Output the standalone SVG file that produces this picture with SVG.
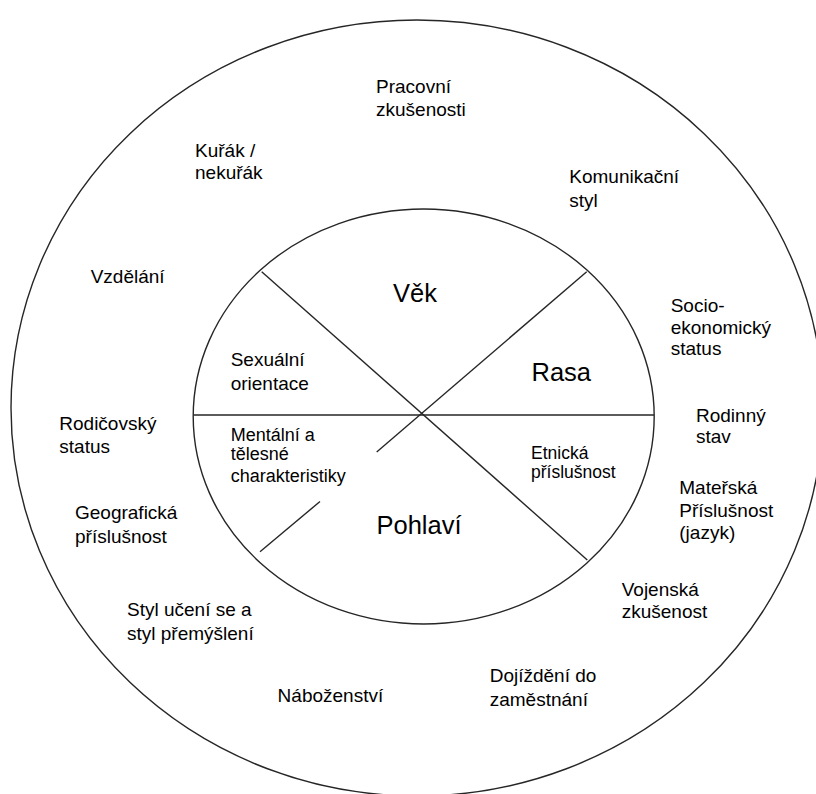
<svg xmlns="http://www.w3.org/2000/svg" width="816" height="794" viewBox="0 0 816 794">
  <style>
    .ring { fill: none; stroke: #262626; stroke-width: 1.4; }
    .div { stroke: #262626; stroke-width: 1.4; fill: none; }
    text { font-family: "Liberation Sans", Arial, sans-serif; fill: #000; }
    .lbl { font-size: 19px; }
    .sm { font-size: 18px; }
    .xs { font-size: 17.5px; }
    .big { font-size: 25.5px; }
  </style>
  <rect width="816" height="794" fill="#fff"/>

  <!-- outer ring -->
  <g id="outer-ring">
    <ellipse class="ring" cx="417" cy="408" rx="406" ry="388"/>
  </g>

  <!-- inner ellipse -->
  <g id="inner-ellipse">
    <ellipse class="ring" cx="423.7" cy="416.5" rx="230.5" ry="207.5"/>
  </g>

  <!-- dividing lines of the inner ellipse -->
  <g id="connectors">
    <line class="div" x1="193.5" y1="415" x2="654" y2="415"/>
    <line class="div" x1="261.7" y1="271.7" x2="587.3" y2="560"/>
    <line class="div" x1="586.7" y1="271.7" x2="376.7" y2="452"/>
    <line class="div" x1="320" y1="501.5" x2="260" y2="551.7"/>
  </g>

  <!-- inner sectors -->
  <g id="vek"><text class="big" x="393" y="301.5">Věk</text></g>
  <g id="rasa"><text class="big" x="531.5" y="380.5">Rasa</text></g>
  <g id="pohlavi"><text class="big" x="376.5" y="534">Pohlaví</text></g>
  <g id="sexualni-orientace">
    <text class="lbl" x="230.7" y="366">Sexuální</text>
    <text class="lbl" x="230.7" y="390">orientace</text>
  </g>
  <g id="mentalni-telesne">
    <text class="sm" x="230.7" y="440.7">Mentální a</text>
    <text class="sm" x="230.7" y="460">tělesné</text>
    <text class="sm" x="230.7" y="481.7">charakteristiky</text>
  </g>
  <g id="etnicka">
    <text class="xs" x="531" y="459.3">Etnická</text>
    <text class="xs" x="531" y="477.7">příslušnost</text>
  </g>

  <!-- outer ring labels -->
  <g id="pracovni">
    <text class="lbl" x="376" y="92.7">Pracovní</text>
    <text class="lbl" x="376" y="116">zkušenosti</text>
  </g>
  <g id="kurak">
    <text class="lbl" x="195" y="156.7">Kuřák /</text>
    <text class="lbl" x="195" y="179.3">nekuřák</text>
  </g>
  <g id="komunikacni">
    <text class="lbl" x="569.3" y="183.3">Komunikační</text>
    <text class="lbl" x="569.3" y="206.7">styl</text>
  </g>
  <g id="vzdelani">
    <text class="lbl" x="90.7" y="283.3">Vzdělání</text>
  </g>
  <g id="socio">
    <text class="lbl" x="670.7" y="311.7">Socio-</text>
    <text class="lbl" x="670.7" y="333.5">ekonomický</text>
    <text class="lbl" x="670.7" y="355.3">status</text>
  </g>
  <g id="rodicovsky">
    <text class="lbl" x="59.3" y="430">Rodičovský</text>
    <text class="lbl" x="59.3" y="453.3">status</text>
  </g>
  <g id="rodinny">
    <text class="lbl" x="696" y="421.7">Rodinný</text>
    <text class="lbl" x="696" y="443.3">stav</text>
  </g>
  <g id="geograficka">
    <text class="lbl" x="75" y="519.3">Geografická</text>
    <text class="lbl" x="75" y="542.7">příslušnost</text>
  </g>
  <g id="materska">
    <text class="lbl" x="679.3" y="494.3">Mateřská</text>
    <text class="lbl" x="679.3" y="516.7">Příslušnost</text>
    <text class="lbl" x="679.3" y="539.3">(jazyk)</text>
  </g>
  <g id="vojenska">
    <text class="lbl" x="621.7" y="596">Vojenská</text>
    <text class="lbl" x="621.7" y="618.3">zkušenost</text>
  </g>
  <g id="styl-uceni">
    <text class="lbl" x="127" y="616">Styl učení se a</text>
    <text class="lbl" x="127" y="640">styl přemýšlení</text>
  </g>
  <g id="nabozenstvi">
    <text class="lbl" x="277.6" y="702.4">Náboženství</text>
  </g>
  <g id="dojizdeni">
    <text class="lbl" x="489.7" y="681.7">Dojíždění do</text>
    <text class="lbl" x="489.7" y="705.9">zaměstnání</text>
  </g>
</svg>
